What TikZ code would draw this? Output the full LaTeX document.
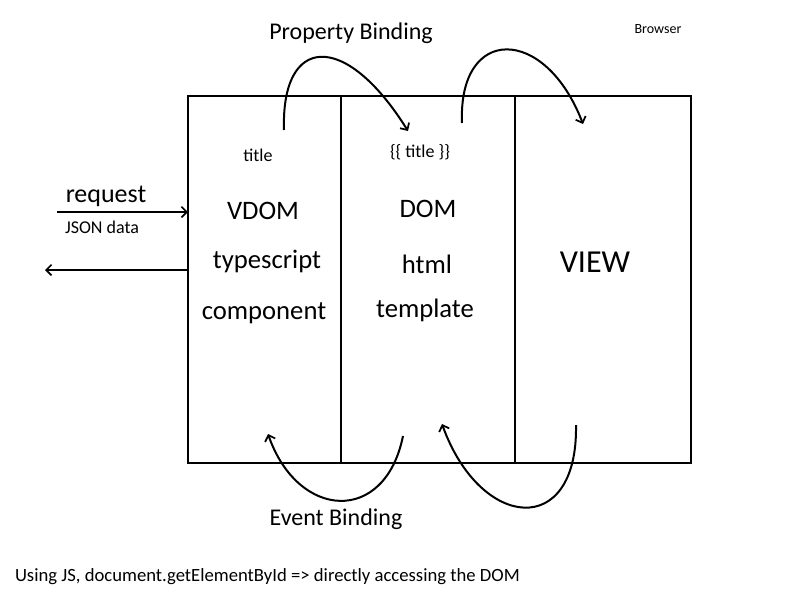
\documentclass[tikz,border=0pt]{standalone}
\usepackage{fontspec}
\setmainfont{Carlito}
\usetikzlibrary{arrows.meta}
\begin{document}
\begin{tikzpicture}[x=0.75pt,y=-0.75pt,
  every node/.style={inner sep=0pt,outer sep=0pt},
  col/.style={draw,line width=1.5pt,minimum height=275.25pt},
  arr/.style={line width=1.5pt,-{Straight Barb[length=4pt,width=8pt,line width=1.3pt]}},
  curve/.style={line width=1.5pt,-{Straight Barb[length=4pt,width=8pt,line width=1.3pt]}},
  big/.style={font=\fontsize{20}{24}\selectfont},
  mid/.style={font=\fontsize{18}{22}\selectfont},
  small/.style={font=\fontsize{13.5}{16}\selectfont},
  tiny/.style={font=\fontsize{10.5}{12}\selectfont}]
\useasboundingbox (0,0) rectangle (800,600);
\fill[white] (0,0) rectangle (800,600);

% columns
\node[col,minimum width=114.75pt] (col1) at (264.5,279.5) {};
\node[col,minimum width=130.5pt] (col2) at (428,279.5) {};
\node[col,minimum width=132pt] (col3) at (603,279.5) {};

% texts
\node[mid] (pb) at (351,33) {Property Binding};
\node[tiny] (browser) at (658,29) {Browser};
\node[small] (t1) at (258,155) {title};
\node[small] (t2) at (420,152) {\{\{ title \}\}};
\node[big] (vdom) at (263,211) {VDOM};
\node[big] (ts) at (267,261) {typescript};
\node[big] (comp) at (264,313) {component};
\node[big] (dom) at (428,209) {DOM};
\node[big] (html) at (427,264) {html};
\node[big] (tmpl) at (425,310) {template};
\node[font=\fontsize{24}{28}\selectfont] (view) at (595,262) {VIEW};
\node[font=\fontsize{19.5}{23}\selectfont] (req) at (106,196) {request};
\node[small] (json) at (102,227) {JSON data};
\node[mid] (eb) at (336,519) {Event Binding};
\node[font=\fontsize{14}{17}\selectfont,anchor=west] (note) at (15,577) {Using JS, document.getElementById => directly accessing the DOM};

% request / response arrows
\coordinate (reqs) at (57,212);
\coordinate (rete) at (45,270);
\draw[arr] (reqs) -- (col1.west |- reqs);
\draw[arr] (col1.west |- rete) -- (rete);

% property binding curves
\coordinate (p1s) at (284,130);
\coordinate (p1e) at (408,131);
\coordinate (p2s) at (462,123);
\coordinate (p2e) at (583,124);
\draw[curve] (p1s) .. controls (281,35) and (345,30) .. (p1e);
\draw[curve] (p2s) .. controls (458,25) and (545,25) .. (p2e);

% event binding curves
\coordinate (e1s) at (403,436);
\coordinate (e1e) at (268,434);
\coordinate (e2s) at (576,425);
\coordinate (e2e) at (442,424);
\draw[curve] (e1s) .. controls (385,525) and (298,520) .. (e1e);
\draw[curve] (e2s) .. controls (578,540) and (480,530) .. (e2e);
\end{tikzpicture}
\end{document}
